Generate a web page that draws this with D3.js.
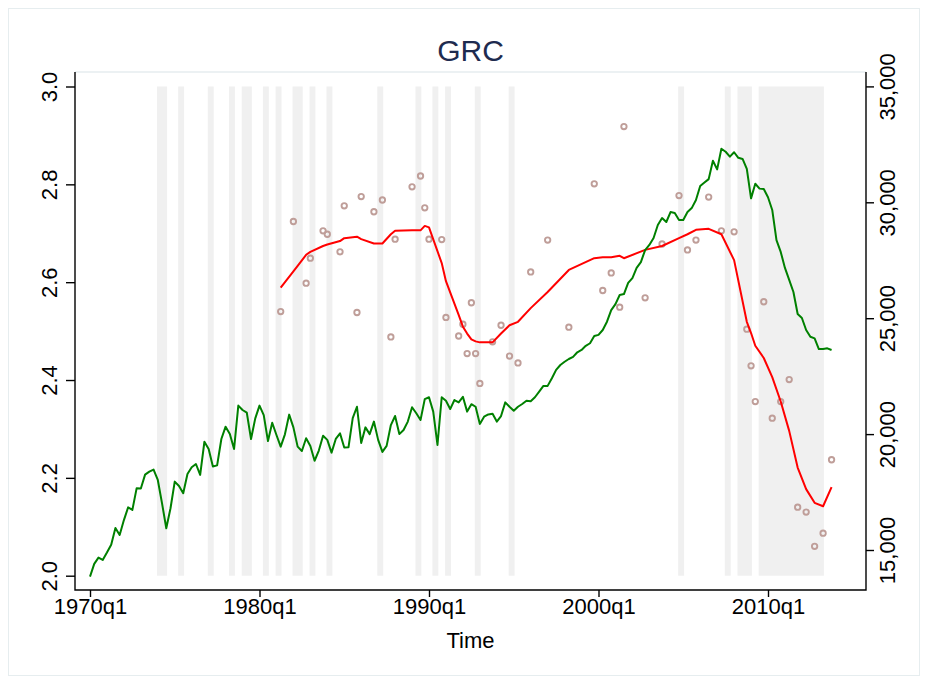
<!DOCTYPE html>
<html>
<head>
<meta charset="utf-8">
<script src="https://cdn.jsdelivr.net/npm/d3@7"></script>
<style>
	body { margin: 0; background: #fff; }
	svg text { font-family: "Liberation Sans", Arial, Helvetica, sans-serif; }
</style>
</head>
<body>
<svg id="chart" width="928" height="683"></svg>
<script>
// quarterly series, right axis, first value is 1970q1
const startQuarter = '1970q1';
const gdp = [
	13850, 14400, 14670, 14570, 14890, 15230, 15950, 15650, 16290, 16840,
	16730, 17660, 17650, 18250, 18380, 18470, 18020, 17010, 15940, 16800,
	17950, 17760, 17450, 18280, 18570, 18710, 18240, 19670, 19360, 18600,
	18650, 19790, 20320, 20000, 19360, 21230, 21040, 20930, 19790, 20680,
	21230, 20820, 19700, 20490, 19960, 19460, 19990, 20840, 20290, 19460,
	19270, 19820, 19490, 18850, 19290, 19930, 19750, 19200, 19790, 20030,
	19420, 19430, 20690, 21180, 19620, 20290, 20000, 20540, 19750, 19230,
	19490, 20390, 20780, 20000, 20180, 20540, 21160, 20900, 20610, 21510,
	21590, 20970, 19530, 21590, 21440, 21080, 21470, 21370, 21610, 20970,
	21290, 21180, 20440, 20750, 20850, 20880, 20540, 20780, 21370, 21180,
	21010, 21180, 21300, 21440, 21420, 21590, 21830, 22080, 22080, 22410,
	22770, 22980, 23120, 23240, 23330, 23530, 23630, 23810, 23920, 24230,
	24280, 24490, 24850, 25350, 25610, 26000, 26040, 26520, 26730, 27170,
	27420, 27940, 28160, 28460, 29020, 29320, 29150, 29580, 29540, 29240,
	29240, 29580, 29750, 30100, 30700, 30850, 31000, 31790, 31420, 32310,
	32180, 31970, 32160, 31920, 31870, 31440, 30170, 30800, 30590, 30570,
	30220, 29670, 28370, 27860, 27170, 26650, 26130, 25180, 25010, 24490,
	24200, 24130, 23670, 23670, 23700, 23630
];

// survey points and their smoothed fit, left axis
const surveyQuarters = [
	'1981q2', '1982q1', '1982q4', '1983q1', '1983q4', '1984q1', '1984q4', '1985q1', '1985q4', '1986q1',
	'1986q4', '1987q2', '1987q4', '1988q1', '1989q1', '1989q3', '1989q4', '1990q1', '1990q4', '1991q1',
	'1991q4', '1992q1', '1992q2', '1992q3', '1992q4', '1993q1', '1993q4', '1994q2', '1994q4', '1995q2',
	'1996q1', '1997q1', '1998q2', '1999q4', '2000q2', '2000q4', '2001q2', '2001q3', '2002q4', '2003q4',
	'2004q4', '2005q2', '2005q4', '2006q3', '2007q2', '2008q1', '2008q4', '2009q1', '2009q2', '2009q4',
	'2010q2', '2010q4', '2011q2', '2011q4', '2012q2', '2012q4', '2013q2', '2013q4'
];
const surveyValues = [
	2.540, 2.724, 2.598, 2.649, 2.705, 2.698, 2.662, 2.756, 2.538, 2.775,
	2.744, 2.768, 2.488, 2.688, 2.795, 2.817, 2.752, 2.688, 2.687, 2.528,
	2.490, 2.514, 2.454, 2.558, 2.454, 2.393, 2.478, 2.512, 2.449, 2.435,
	2.621, 2.686, 2.508, 2.801, 2.583, 2.619, 2.549, 2.918, 2.568, 2.678,
	2.777, 2.666, 2.686, 2.774, 2.705, 2.703, 2.504, 2.429, 2.356, 2.560,
	2.322, 2.356, 2.401, 2.140, 2.130, 2.060, 2.087, 2.237
];
const smoothValues = [
	2.589, 2.622, 2.656, 2.662, 2.674, 2.677, 2.684, 2.690, 2.693, 2.688,
	2.679, 2.679, 2.698, 2.705, 2.706, 2.706, 2.715, 2.712, 2.639, 2.602,
	2.533, 2.509, 2.495, 2.483, 2.479, 2.477, 2.477, 2.495, 2.512, 2.519,
	2.547, 2.580, 2.625, 2.649, 2.651, 2.651, 2.654, 2.649, 2.666, 2.674,
	2.690, 2.698, 2.707, 2.709, 2.698, 2.645, 2.519, 2.496, 2.470, 2.445,
	2.406, 2.356, 2.296, 2.221, 2.177, 2.149, 2.142, 2.181
];

// shaded quarters (first, last)
const shadedSpells = [
	['1974q1', '1974q2'], ['1975q2', '1975q2'], ['1977q1', '1977q1'], ['1978q2', '1978q2'],
	['1979q1', '1979q2'], ['1980q2', '1980q2'], ['1981q1', '1981q1'], ['1982q1', '1982q2'],
	['1983q1', '1983q1'], ['1984q1', '1984q1'], ['1987q1', '1987q1'], ['1989q2', '1989q2'],
	['1990q2', '1990q2'], ['1991q1', '1991q1'], ['1992q4', '1992q4'], ['1994q4', '1994q4'],
	['2004q4', '2004q4'], ['2007q3', '2007q3'], ['2008q2', '2008q4'], ['2009q3', '2013q1']
];

const leftTicks = [2.0, 2.2, 2.4, 2.6, 2.8, 3.0];
const rightTicks = [15000, 20000, 25000, 30000, 35000];
const timeTicks = ['1970q1', '1980q1', '1990q1', '2000q1', '2010q1'];

function quarterIndex(label) {
	const [y, q] = label.split('q').map(Number);
	const [y0, q0] = startQuarter.split('q').map(Number);
	return (y - y0) * 4 + (q - q0);
}

const plot = {left: 75, right: 866, top: 72, bottom: 590};

const svg = d3.select('#chart');

const x = d3.scaleLinear().domain([0, 160]).range([90, 768]);
const yLeft = d3.scaleLinear().domain([2, 3]).range([575.7, 86.5]);
const yRight = d3.scaleLinear().domain([15000, 35000]).range([550, 86.4]);

// outer frame and plot region frame
svg.append('rect')
	.attr('x', 8.5).attr('y', 8.5).attr('width', 911).attr('height', 667)
	.attr('fill', '#fff').attr('stroke', '#e6edef').attr('stroke-width', 1);
svg.append('line')
	.attr('x1', plot.left).attr('x2', plot.right).attr('y1', plot.top).attr('y2', plot.top)
	.attr('stroke', '#e6edef').attr('stroke-width', 1.5);

// shading
const qWidth = x(1) - x(0);
svg.append('g').selectAll('rect')
	.data(shadedSpells)
	.enter()
	.append('rect')
	.attr('x', (d)=>x(quarterIndex(d[0])) - 0.2 * qWidth)
	.attr('width', (d)=>x(quarterIndex(d[1]) + 1) - x(quarterIndex(d[0])) + 0.4 * qWidth)
	.attr('y', yLeft(3))
	.attr('height', yLeft(2) - yLeft(3))
	.attr('fill', '#f0f0f0');

// survey markers
svg.append('g').selectAll('circle')
	.data(surveyQuarters)
	.enter()
	.append('circle')
	.attr('cx', (d)=>x(quarterIndex(d)))
	.attr('cy', (d, i)=>yLeft(surveyValues[i]))
	.attr('r', 2.7)
	.attr('fill', 'none')
	.attr('stroke', '#bf9e99')
	.attr('stroke-width', 1.9);

// smoothed fit
const smoothLine = d3.line()
	.x((d)=>x(quarterIndex(d)))
	.y((d, i)=>yLeft(smoothValues[i]));
svg.append('path')
	.attr('d', smoothLine(surveyQuarters))
	.attr('fill', 'none')
	.attr('stroke', '#ff0000')
	.attr('stroke-width', 2)
	.attr('stroke-linejoin', 'round');

// gdp line
const gdpLine = d3.line()
	.x((d, i)=>x(i))
	.y((d)=>yRight(d));
svg.append('path')
	.attr('d', gdpLine(gdp))
	.attr('fill', 'none')
	.attr('stroke', '#008000')
	.attr('stroke-width', 2)
	.attr('stroke-linejoin', 'round');

// axes
const leftAxis = svg.append('g')
	.attr('transform', `translate(${plot.left},0)`)
	.call(d3.axisLeft(yLeft).tickValues(leftTicks).tickFormat(d3.format('.1f')).tickSize(9).tickSizeOuter(0));
leftAxis.selectAll('text')
	.attr('x', null).attr('dy', null)
	.attr('text-anchor', 'middle')
	.attr('transform', 'translate(-18,0) rotate(-90)');

const rightAxis = svg.append('g')
	.attr('transform', `translate(${plot.right},0)`)
	.call(d3.axisRight(yRight).tickValues(rightTicks).tickFormat(d3.format(',')).tickSize(8).tickSizeOuter(0));
rightAxis.selectAll('text')
	.attr('x', null).attr('dy', null)
	.attr('text-anchor', 'middle')
	.attr('transform', 'translate(29,0) rotate(-90)');

const bottomAxis = svg.append('g')
	.attr('transform', `translate(0,${plot.bottom})`)
	.call(d3.axisBottom(x).tickValues(timeTicks.map(quarterIndex)).tickFormat((d, i)=>timeTicks[i]).tickSize(7).tickSizeOuter(0));
bottomAxis.selectAll('text')
	.attr('y', 24).attr('dy', null);

[leftAxis, rightAxis, bottomAxis].forEach((axis)=>{
	axis.select('.domain').remove();
	axis.selectAll('line').attr('stroke', '#000').attr('stroke-width', 1.4);
	axis.selectAll('text').attr('fill', '#000').style('font-size', '22px');
});

// axis lines along the plot region
svg.append('path')
	.attr('d', `M${plot.left},${plot.top}V${plot.bottom}H${plot.right}V${plot.top}`)
	.attr('fill', 'none')
	.attr('stroke', '#000')
	.attr('stroke-width', 1.4);

svg.append('text')
	.attr('x', (plot.left + plot.right) / 2)
	.attr('y', 648)
	.attr('text-anchor', 'middle')
	.style('font-size', '22px')
	.text('Time');

svg.append('text')
	.attr('x', (plot.left + plot.right) / 2)
	.attr('y', 61)
	.attr('text-anchor', 'middle')
	.attr('fill', '#1e2b4f')
	.style('font-size', '30px')
	.text('GRC');
</script>
</body>
</html>
